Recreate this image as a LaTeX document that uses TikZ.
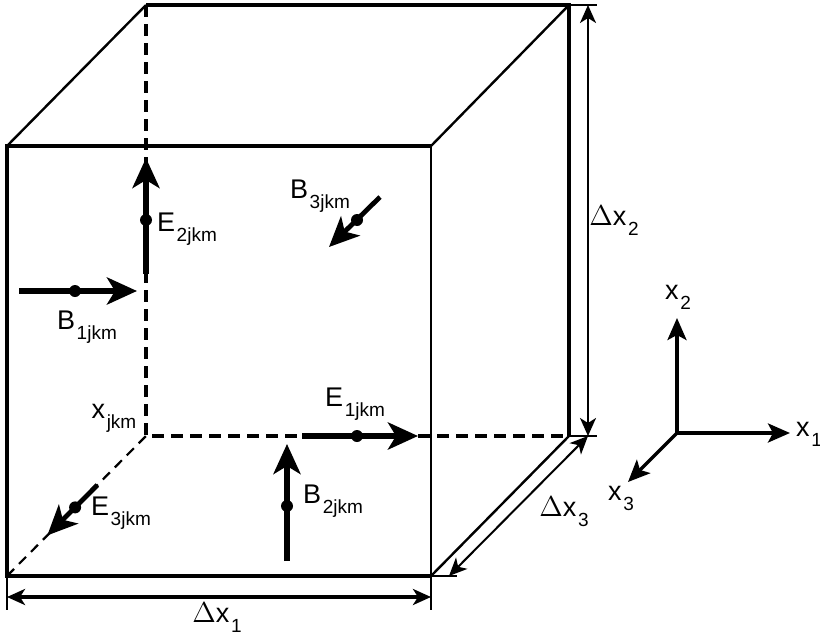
\documentclass[tikz,border=0pt]{standalone}
\usepackage{fontspec}
\setmainfont{Liberation Sans}
\usetikzlibrary{arrows.meta,calc}

\newcommand{\fieldlab}[2]{#1\kern0.8pt\raisebox{-5pt}{\fontsize{9.5}{11}\selectfont #2}}

\tikzset{
  edge/.style = {line width=1.9pt},
  depth/.style = {line width=1.2pt},
  hidden/.style = {line width=1.9pt, dash pattern=on 6pt off 3.5pt},
  hidden depth/.style = {line width=1.1pt, dash pattern=on 5pt off 3.5pt},
  field/.style = {line width=2.8pt, -{Stealth[length=15pt,width=13.5pt,inset=4pt]}},
  dot/.style = {circle, fill, inner sep=0pt, minimum size=6pt},
  dim/.style = {line width=1pt, {Stealth[length=9pt,width=8pt,inset=2.5pt]}-{Stealth[length=9pt,width=8pt,inset=2.5pt]}},
  ext/.style = {line width=0.6pt},
  axis/.style = {line width=1.7pt, -{Stealth[length=11pt,width=9.5pt,inset=2.5pt]}}
}

\begin{document}
\begin{tikzpicture}[x=0.5pt, y=-0.5pt,
  every node/.style = {font=\fontsize{13.5}{16}\selectfont, inner sep=0pt}]
  \useasboundingbox (0,0) rectangle (820,637);

  % cube corners: f = front, b = back
  \coordinate (fbl) at (7,576);   \coordinate (fbr) at (431,576);
  \coordinate (ftr) at (431,146); \coordinate (ftl) at (7,146);
  \coordinate (bbl) at (146,436); \coordinate (bbr) at (569,436);
  \coordinate (btr) at (569,5);   \coordinate (btl) at (146,5);

  % hidden edges
  \draw[hidden] (btl) -- (bbl) -- (bbr);
  \draw[hidden depth] (fbl) -- (bbl);

  % visible edges
  \draw[edge] (fbr) -- (fbl) -- (ftl) -- (ftr);
  \draw[depth] (ftr) -- (fbr);
  \draw[edge] (btl) -- (btr) -- (bbr);
  \draw[depth] (ftl) -- (btl);
  \draw[depth] (ftr) -- (btr);
  \draw[depth] (fbr) -- (bbr);

  % field components
  \coordinate (e2s) at (146,274); \coordinate (e2t) at (146,158);
  \draw[field] (e2s) -- (e2t);
  \node[dot] (e2d) at (146,220) {};
  \node (le2) at (187,229) {\fieldlab{E}{2jkm}};

  \coordinate (b1s) at (19,291); \coordinate (b1t) at (137,291);
  \draw[field] (b1s) -- (b1t);
  \node[dot] (b1d) at (75,291) {};
  \node (lb1) at (87,327) {\fieldlab{B}{1jkm}};

  \coordinate (b3s) at (380,197); \coordinate (b3t) at (329,247);
  \draw[field, line width=2.4pt] (b3s) -- (b3t);
  \node[dot] (b3d) at (357,220) {};
  \node (lb3) at (320,196) {\fieldlab{B}{3jkm}};

  \coordinate (e1s) at (302,436); \coordinate (e1t) at (418,436);
  \draw[field] (e1s) -- (e1t);
  \node[dot] (e1d) at (357,436) {};
  \node (le1) at (355,404) {\fieldlab{E}{1jkm}};

  \coordinate (b2s) at (287,561); \coordinate (b2t) at (287,444);
  \draw[field] (b2s) -- (b2t);
  \node[dot] (b2d) at (287,506) {};
  \node (lb2) at (333,501) {\fieldlab{B}{2jkm}};

  \coordinate (e3s) at ($(fbl)!0.65!(bbl)$); \coordinate (e3t) at ($(fbl)!0.29!(bbl)$);
  \draw[field, line width=2.4pt] (e3s) -- (e3t);
  \node[dot] (e3d) at ($(fbl)!0.49!(bbl)$) {};
  \node (le3) at (121,513) {\fieldlab{E}{3jkm}};

  \node (lx) at (114,418) {\fieldlab{x}{jkm}};

  % dimensions
  \coordinate (d1a) at (7,610);  \coordinate (d1b) at (431,610);
  \draw[ext] (fbl) -- (d1a);
  \draw[ext] (fbr) -- (d1b);
  \coordinate (d1l) at (7,597);  \coordinate (d1r) at (431,597);
  \draw[dim, line width=2pt] (d1l) -- (d1r);
  \node (ldx1) at (217,618) {$\Delta$\fieldlab{x}{1}};

  \coordinate (d2a) at (597,5);  \coordinate (d2b) at (597,436);
  \draw[ext] (btr) -- (d2a);
  \draw[ext] (bbr) -- (d2b);
  \coordinate (d2t) at (588,5);  \coordinate (d2u) at (588,436);
  \draw[dim] (d2t) -- (d2u);
  \node (ldx2) at (614,221) {$\Delta$\fieldlab{x}{2}};

  \coordinate (d3a) at (457,576);
  \draw[ext] (fbr) -- (d3a);
  \coordinate (d3l) at (449,576); \coordinate (d3r) at (588,436);
  \draw[dim] (d3l) -- (d3r);
  \node (ldx3) at (564,512) {$\Delta$\fieldlab{x}{3}};

  % coordinate axes
  \coordinate (o) at (677,433);
  \coordinate (ax1) at (790,433);
  \coordinate (ax2) at (677,318);
  \coordinate (ax3) at (628,482);
  \draw[axis] (o) -- (ax1);
  \draw[axis] (o) -- (ax2);
  \draw[axis] (o) -- (ax3);
  \node (lx1) at (809,434) {\fieldlab{x}{1}};
  \node (lx2) at (678,297) {\fieldlab{x}{2}};
  \node (lx3) at (621,498) {\fieldlab{x}{3}};
\end{tikzpicture}
\end{document}
